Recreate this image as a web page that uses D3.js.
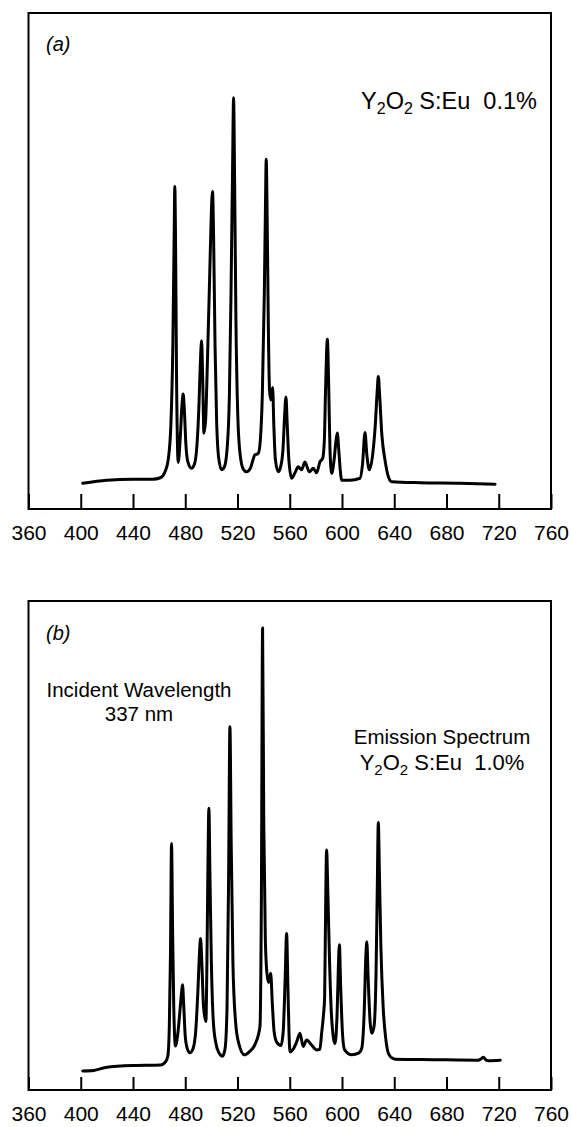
<!DOCTYPE html>
<html>
<head>
<meta charset="utf-8">
<script src="https://cdn.jsdelivr.net/npm/d3@7"></script>
<style>
body { margin: 0; background: #fff; }
svg text { font-family: "Liberation Sans", Arial, Helvetica, sans-serif; fill: #000; }
</style>
</head>
<body>
<svg id="chart" width="571" height="1127"></svg>
<script>
// tick labels of the wavelength axis (nm)
const wave_ticks = [360, 400, 440, 480, 520, 560, 600, 640, 680, 720, 760];

// (a) Y2O2S:Eu 0.1% - wavelength (nm) and relative intensity (0-100 = box height)
const wavelength_a = [401.5, 420, 440, 455, 461, 464.5, 467, 469, 470.5, 471.5, 472, 472.6, 473.3, 474.6, 476.3, 477.5, 478.4, 479.3, 480.5, 482, 484.8,
    487, 489, 490.5, 491.5, 492.5, 493.3, 494.3, 495.6, 497, 498.8, 500, 500.9, 501.7, 502.8, 504, 505.5, 507.8,
    510, 512, 513.8, 515, 516.2, 517, 517.8, 518.8, 520.2, 522, 524.5, 527, 530, 533.3, 535.9,
    537.5, 539, 540.5, 541.4, 542, 542.7, 543.6, 544.5, 545.5, 546.9, 547.8, 549, 551.2,
    553, 554.8, 556, 557.1, 558, 559.3, 561.4, 564, 566.5, 569.1, 571.6, 575, 578, 580.6, 583.1, 585.2,
    586.5, 587.5, 588.8, 589.8, 590.8, 592.1, 594, 595.3, 596.4, 597.5, 598.6, 599.8, 606, 613.8,
    615.7, 617.6, 619, 620.9, 623.5, 625.5, 627, 627.8, 628.8, 630.5, 632.9, 635.5, 638.1, 660, 690, 717.2];
const intensity_a = [5.2, 5.8, 6.0, 6.0, 6.3, 7.5, 10, 17, 33, 55, 65, 53, 28, 9.4, 15, 21, 23.2, 20, 13, 9.5, 8.2,
    9, 13, 21, 29, 33.9, 27, 15.3, 18, 30, 48, 60, 64, 55, 33, 18, 10.5, 7.9,
    8.5, 12, 23, 43, 68, 82.9, 66, 38, 19, 11, 8, 7.5, 8.3, 10.9, 11.2,
    14, 23, 43, 61, 70.5, 59, 37, 24, 22, 24.5, 17, 10, 7.5,
    8.5, 12, 18.5, 22.6, 17.5, 10, 6.2, 7.3, 8.5, 7.9, 9.5, 7.5, 8.2, 7.3, 9.5, 10.2,
    14, 25, 34.2, 25, 12, 7.2, 10, 13.5, 15.3, 12, 8, 5.8, 5.8, 6.2,
    9, 15.4, 11, 7.9, 11, 17, 24, 26.7, 23, 15, 9.9, 6.5, 5.5, 5.3, 5.2, 5.0];

// (b) Y2O2S:Eu 1.0%, incident wavelength 337 nm
const wavelength_b = [401.5, 410, 419, 440, 461, 465, 466.7, 467.8, 468.7, 469.5, 470.3, 471.2, 472.5, 474.5, 476.2, 477.2, 477.9, 478.8, 480, 481.5, 483.5,
    486, 488, 489.8, 490.9, 491.7, 492.7, 494, 495.8, 496.5, 497.3, 498.1, 498.9, 500, 501.5, 503.5, 506, 508.5,
    510.5, 512, 513.2, 514.2, 515.2, 516.5, 518.5, 521, 525.3, 529, 533.7, 537.2,
    538.3, 539.2, 540.1, 541.3, 542.5, 543.8, 545.4, 546.6, 548, 550, 553.3,
    555, 556.5, 557.6, 558.6, 559.5, 560.2, 563, 565.5, 567.8, 570.3, 572.9, 576.7, 580.6, 583.1, 584.4, 585.8,
    586.7, 587.5, 588.2, 589.2, 590.5, 592, 594.6, 596.3, 597.2, 598, 599, 600.5, 602, 607.4, 613, 615.1,
    617, 618.2, 619, 620, 621.5, 622.8, 624.5, 626, 627, 627.8, 628.6, 629.8, 631.5, 633.5, 635.5, 638, 640.6,
    670, 704.5, 706.5, 708.3, 710, 712.1, 721.1];
const intensity_b = [3.9, 4.0, 4.6, 5.0, 5.1, 5.8, 7, 13, 28, 50.4, 33, 17, 9, 12, 17, 20, 21.5, 17.5, 11, 8.5, 7.6,
    8.5, 12, 21, 28, 31, 26, 17, 14, 24, 44, 57.6, 44, 26, 14, 9.5, 7.5, 6.9,
    8.5, 17, 44, 74.3, 50, 26, 14, 9.5, 7.2, 7.8, 9.5, 13,
    40, 94.5, 55, 31, 24, 22, 23.9, 18, 12, 9.8, 9.1,
    12, 23, 32, 21, 11, 7.8, 8.5, 10, 11.6, 8.9, 10.2, 9.2, 8.2, 8.3, 11.6, 15.3,
    19, 38, 49.1, 40, 26, 15, 9.5, 16, 25, 29.7, 21, 11, 8.2, 7.2, 7.6, 8.5,
    16, 27, 30.3, 23, 14, 11.6, 13, 23, 41, 54.7, 45, 29, 17, 10.5, 7.5, 6.6, 6.3,
    6.2, 6.1, 6.4, 6.7, 6.2, 6.0, 6.1];

const svg = d3.select("#chart");

const x = d3.scaleLinear()
    .domain([360, 760])
    .range([28.5, 551]);

function draw_panel(wavelengths, intensities, top, bottom, tick_len) {
    const y = d3.scaleLinear()
        .domain([0, 100])
        .range([bottom, top]);

    const g = svg.append("g");

    // frame
    g.append("rect")
        .attr("x", x(360))
        .attr("y", top)
        .attr("width", x(760) - x(360))
        .attr("height", bottom - top)
        .attr("fill", "none")
        .attr("stroke", "#000")
        .attr("stroke-width", 2);

    // inward ticks + labels under the box
    const axis = g.append("g")
        .attr("transform", "translate(0," + bottom + ")")
        .call(d3.axisBottom(x)
            .tickValues(wave_ticks)
            .tickSize(-tick_len)
            .tickPadding(16)
            .tickFormat(d3.format("d")));
    axis.select(".domain").remove();
    axis.selectAll(".tick line").attr("stroke", "#000").attr("stroke-width", 2);
    axis.selectAll(".tick text")
        .attr("font-size", 21)
        .attr("font-family", "'Liberation Sans', Arial, sans-serif");

    const pts = wavelengths.map((w, i) => [w, intensities[i]]);
    const line = d3.line()
        .x(d => x(d[0]))
        .y(d => y(d[1]))
        .curve(d3.curveMonotoneX);

    g.append("path")
        .datum(pts)
        .attr("d", line)
        .attr("fill", "none")
        .attr("stroke", "#000")
        .attr("stroke-width", 3)
        .attr("stroke-linejoin", "round")
        .attr("stroke-linecap", "round");

    return g;
}

function formula_label(g, cx, baseline, size, tail) {
    // Y2O2 S:Eu with subscripts
    const t = g.append("text")
        .attr("x", cx)
        .attr("y", baseline)
        .attr("text-anchor", "middle")
        .attr("font-size", size)
        .style("white-space", "pre");
    t.append("tspan").text("Y");
    t.append("tspan").attr("font-size", size * 0.68).attr("dy", 5).text("2");
    t.append("tspan").attr("dy", -5).text("O");
    t.append("tspan").attr("font-size", size * 0.68).attr("dy", 5).text("2");
    t.append("tspan").attr("dy", -5).text("\u00a0S:Eu\u00a0\u00a0" + tail);
}

const ga = draw_panel(wavelength_a, intensity_a, 13, 509, 15);
ga.append("text")
    .attr("x", 46).attr("y", 51)
    .attr("font-size", 20)
    .attr("font-style", "italic")
    .text("(a)");
formula_label(ga, 449, 109, 23.5, "0.1%");

const gb = draw_panel(wavelength_b, intensity_b, 601, 1090, 13);
gb.append("text")
    .attr("x", 46).attr("y", 640)
    .attr("font-size", 20)
    .attr("font-style", "italic")
    .text("(b)");
gb.append("text")
    .attr("x", 139).attr("y", 697)
    .attr("text-anchor", "middle")
    .attr("font-size", 20.5)
    .text("Incident Wavelength");
gb.append("text")
    .attr("x", 139).attr("y", 721)
    .attr("text-anchor", "middle")
    .attr("font-size", 20.5)
    .text("337 nm");
gb.append("text")
    .attr("x", 442).attr("y", 744)
    .attr("text-anchor", "middle")
    .attr("font-size", 20.5)
    .text("Emission Spectrum");
formula_label(gb, 442, 770, 22, "1.0%");
</script>
</body>
</html>
